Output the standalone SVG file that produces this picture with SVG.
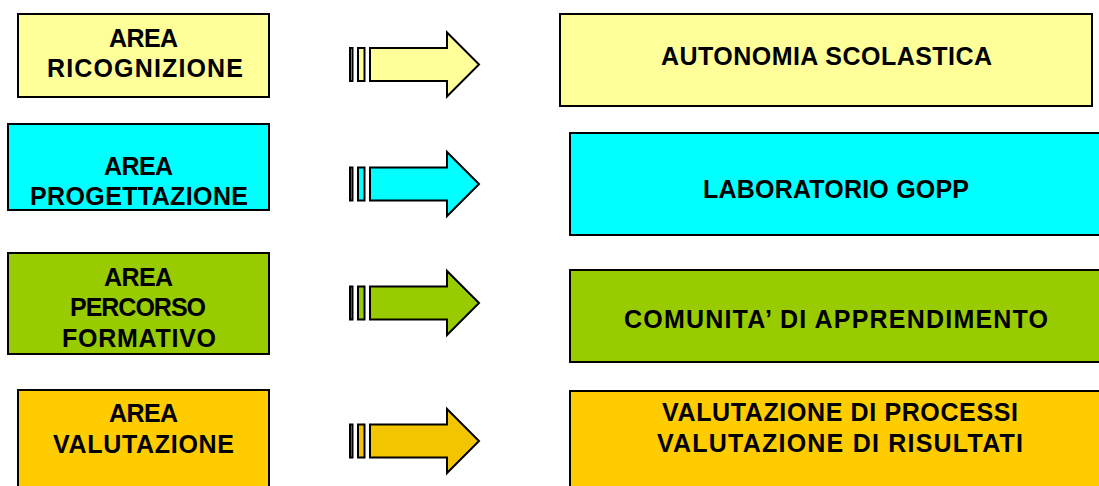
<svg xmlns="http://www.w3.org/2000/svg" xmlns:xlink="http://www.w3.org/1999/xlink" width="1099" height="486" viewBox="0 0 1099 486">
<style>
.box{stroke:#000;stroke-width:2}
.t{font-family:"Liberation Sans",Arial,sans-serif;font-weight:bold;font-size:25px;fill:#000;text-anchor:middle}
.y{fill:#FFFF99}.c{fill:#00FFFF}.g{fill:#99CC00}.o{fill:#FFCC00}
</style>
<defs>
<g id="arr" stroke="#000" stroke-width="2" stroke-linejoin="miter">
<rect x="350" y="-16.5" width="2.5" height="33"/>
<rect x="358" y="-16.5" width="6.5" height="33"/>
<path d="M370,-16.5 H447 V-32 L479,0 L447,32 V16.5 H370 Z"/>
</g>
</defs>
<rect width="1099" height="486" fill="#fff"/>
<g id="connectors">
<use xlink:href="#arr" transform="translate(0,64.5)" fill="#FFFF99"/>
<use xlink:href="#arr" transform="translate(0,184)" fill="#00FFFF"/>
<use xlink:href="#arr" transform="translate(0,303)" fill="#99CC00"/>
<use xlink:href="#arr" transform="translate(0,441)" fill="#F2C500"/>
</g>
<g id="area-ricognizione">
<rect class="box y" x="18" y="14" width="251" height="83"/>
<text class="t" x="143.5" y="47" textLength="69">AREA</text>
<text class="t" x="145" y="77" textLength="196">RICOGNIZIONE</text>
</g>
<g id="area-progettazione">
<rect class="box c" x="8" y="124" width="261" height="86"/>
<text class="t" x="138.5" y="175" textLength="69">AREA</text>
<text class="t" x="139" y="205" textLength="218">PROGETTAZIONE</text>
</g>
<g id="area-percorso">
<rect class="box g" x="8" y="253" width="261" height="101"/>
<text class="t" x="138.5" y="286" textLength="69">AREA</text>
<text class="t" x="138" y="316" textLength="136">PERCORSO</text>
<text class="t" x="139" y="347" textLength="154">FORMATIVO</text>
</g>
<g id="area-valutazione">
<rect class="box o" x="18" y="390" width="251" height="100"/>
<text class="t" x="143.5" y="422" textLength="69">AREA</text>
<text class="t" x="143.5" y="453" textLength="181">VALUTAZIONE</text>
</g>
<g id="autonomia">
<rect class="box y" x="560" y="14" width="532" height="92"/>
<text class="t" x="826.5" y="65" textLength="331">AUTONOMIA SCOLASTICA</text>
</g>
<g id="laboratorio">
<rect class="box c" x="570" y="133" width="532" height="102"/>
<text class="t" x="836" y="198" textLength="266">LABORATORIO GOPP</text>
</g>
<g id="comunita">
<rect class="box g" x="570" y="270" width="532" height="92"/>
<text class="t" x="836" y="328" textLength="424">COMUNITA’ DI APPRENDIMENTO</text>
</g>
<g id="valutazione">
<rect class="box o" x="570" y="391" width="532" height="100"/>
<text class="t" x="840" y="421" textLength="356">VALUTAZIONE DI PROCESSI</text>
<text class="t" x="840" y="452" textLength="366">VALUTAZIONE DI RISULTATI</text>
</g>
</svg>
